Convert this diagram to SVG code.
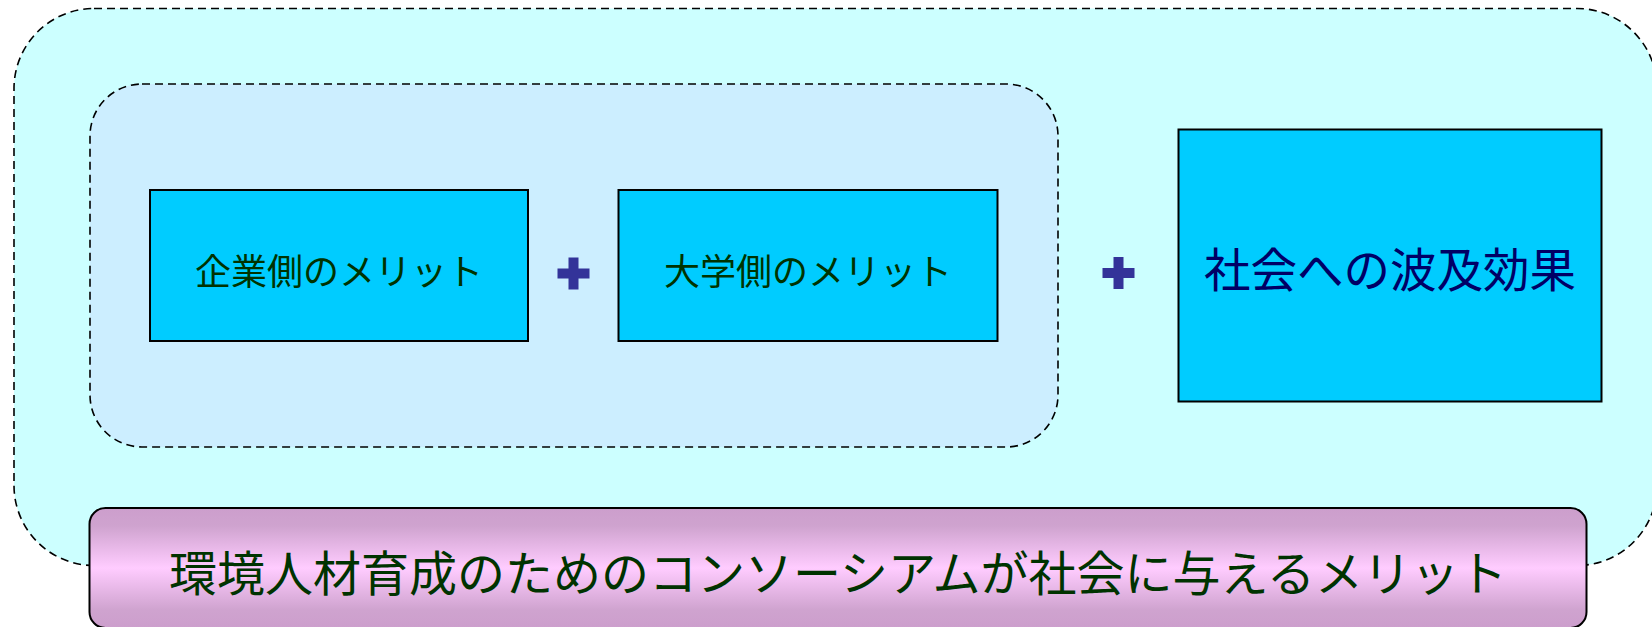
<svg xmlns="http://www.w3.org/2000/svg" width="1652" height="627" viewBox="0 0 1652 627">
  <defs>
    <linearGradient id="pinkGrad" x1="0" y1="0" x2="0" y2="1">
      <stop offset="0" stop-color="#cc9ecc"/>
      <stop offset="0.15" stop-color="#cfa3cf"/>
      <stop offset="0.5" stop-color="#ffccff"/>
      <stop offset="0.85" stop-color="#cfa3cf"/>
      <stop offset="1" stop-color="#cc9ecc"/>
    </linearGradient>
    <style>
      .dashed { stroke: #000; stroke-width: 1.6; stroke-dasharray: 8 5; }
      .box { fill: #00ccff; stroke: #000; stroke-width: 2; }
      .lbl { font-family: "Noto Sans CJK JP", "Noto Sans", sans-serif; text-anchor: middle; }
      .green { fill: #003300; }
      .navy { fill: #000066; }
      .plus { fill: #333399; }
    </style>
  </defs>
  <rect width="1652" height="627" fill="#ffffff"/>
  <g id="outer-group">
    <rect x="14" y="8.5" width="1643" height="557" rx="80" ry="80" fill="#ccffff" class="dashed"/>
  </g>
  <g id="inner-group">
    <rect x="90" y="84" width="968" height="363" rx="52" ry="52" fill="#cceeff" class="dashed"/>
  </g>
  <g id="node-company">
    <rect x="150" y="190" width="378" height="151" class="box"/>
    <text x="339" y="285" font-size="36" class="lbl green">企業側のメリット</text>
  </g>
  <g id="node-university">
    <rect x="618.5" y="190" width="379" height="151" class="box"/>
    <text x="808" y="285" font-size="36" class="lbl green">大学側のメリット</text>
  </g>
  <g id="node-society">
    <rect x="1178.5" y="129.5" width="423" height="272" class="box"/>
    <text x="1390" y="287" font-size="46.5" class="lbl navy">社会への波及効果</text>
  </g>
  <g id="connectors">
    <path class="plus" d="M568.5 257.5h10v11h11v10h-11v11h-10v-11h-11v-10h11z"/>
    <path class="plus" d="M1113.5 257h10v11h11v10h-11v11h-10v-11h-11v-10h11z"/>
  </g>
  <g id="node-title">
    <rect x="89.5" y="508" width="1497" height="120" rx="16" ry="16" fill="url(#pinkGrad)" stroke="#000" stroke-width="2"/>
    <text x="838" y="591" font-size="48" class="lbl green">環境人材育成のためのコンソーシアムが社会に与えるメリット</text>
  </g>
</svg>
